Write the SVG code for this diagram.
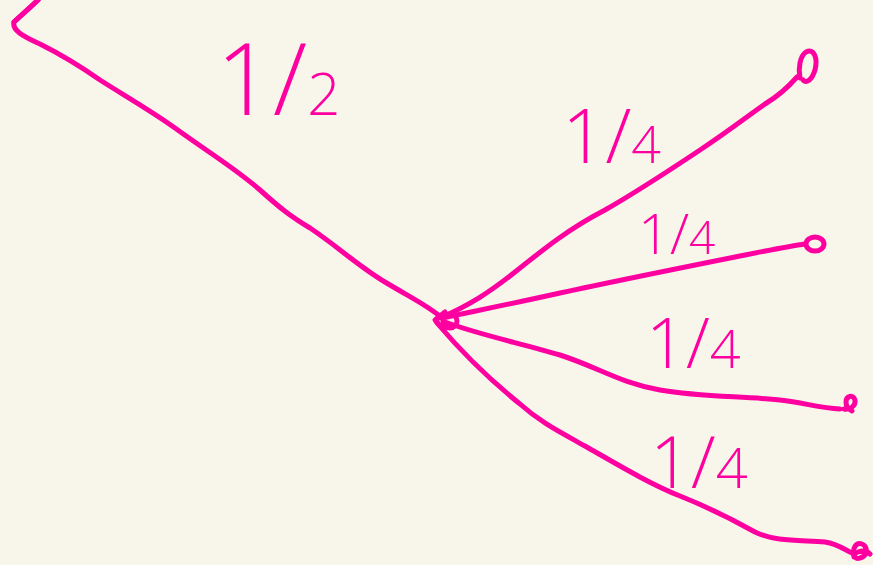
<svg xmlns="http://www.w3.org/2000/svg" width="873" height="565" viewBox="0 0 873 565">
<style>
.ln{fill:none;stroke:#ff00a0;stroke-width:5;stroke-linecap:round;stroke-linejoin:round}
.lb{fill:#ff00a0;font-family:"Open Sans","Liberation Sans",sans-serif;font-weight:300}
</style>
<rect width="873" height="565" fill="#f8f6ea"/>
<g id="connectors">
<path class="ln" d="M38,0 C30,8 20,16 14,22 C12,30 22,36 40,44 C60,54 80,66 100,80 C125,96 150,110 175,128 C205,150 235,168 260,190 C280,208 290,216 310,228 C340,248 360,268 390,285 C410,297 430,307 442,318"/>
<path class="ln" d="M440,318 C470,305 490,292 515,272 C545,248 570,228 605,210 C640,190 670,170 700,150 C730,130 745,118 765,104 C780,95 790,85 797,77"/>
<path class="ln" d="M442,318 C480,310 520,302 560,293 C620,280 680,268 740,256 C770,250 790,246 805,244"/>
<path class="ln" d="M445,322 C480,335 520,343 560,355 C600,368 620,383 660,390 C700,397 740,396 780,400 C805,403 820,408 840,409"/>
<path class="ln" d="M437,323 C460,350 490,380 520,404 C540,422 560,432 585,446 C620,466 650,484 680,496 C710,508 730,518 755,532 C775,542 800,540 825,542 C838,544 845,550 852,553"/>
</g>
<g id="root"><path class="ln" d="M38,0 L14,22"/></g>
<g id="hub">
<path class="ln" d="M445,312 L435,320 L444,330"/>
<circle class="ln" cx="450" cy="321" r="7"/>
</g>
<g id="leaf1"><path class="ln" d="M800,78 C798,68 800,56 806,52 C814,48 818,58 815,70 C812,80 806,84 803,80"/></g>
<g id="leaf2"><ellipse class="ln" cx="815" cy="244" rx="9" ry="7"/></g>
<g id="leaf3"><path class="ln" d="M844,409 C850,410 856,406 855,400 C853,394 846,396 846,402 C846,408 850,410 852,411"/></g>
<g id="leaf4"><path class="ln" d="M854,557 C852,548 856,542 862,544 C868,546 868,556 860,558 C854,560 852,554 858,552 C864,550 868,552 870,554"/></g>
<g id="labels">
<text class="lb" x="216" y="115" font-size="100">1/<tspan font-size="58">2</tspan></text>
<text class="lb" x="562" y="163" font-size="76">1/<tspan font-size="52">4</tspan></text>
<text class="lb" x="638" y="254" font-size="56">1/<tspan font-size="46">4</tspan></text>
<text class="lb" x="646" y="368" font-size="70">1/<tspan font-size="54">4</tspan></text>
<text class="lb" x="650" y="488" font-size="72">1/<tspan font-size="56">4</tspan></text>
</g>
</svg>
